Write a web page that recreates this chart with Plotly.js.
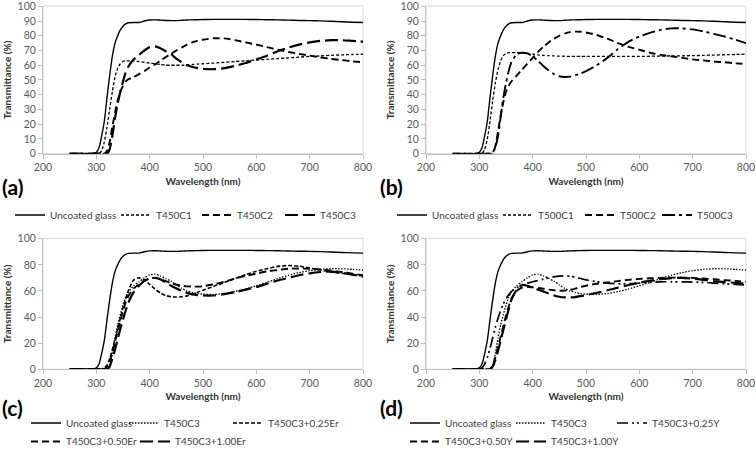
<!DOCTYPE html>
<html><head><meta charset="utf-8">
<script src="https://cdn.plot.ly/plotly-3.0.1.min.js"></script>
<style>html,body{margin:0;padding:0;background:#fff;overflow:hidden}#chart{width:756px;height:456px}</style>
</head><body><div id="chart"></div>
<script>
// wavelength grid (nm)
const wavelength = [250,290,300,305,310,315,320,325,330,335,340,345,350,355,360,370,380,390,400,410,420,430,440,450,460,470,480,490,500,520,540,560,580,600,620,640,660,680,700,720,740,760,780,800];

// Transmittance (%)
const uncoatedGlass = [0,0,1,4,12,22,38,53,66,75,80,84,86.5,88,88.8,89,89,90,90.7,90.8,90.6,90.4,90.3,90.3,90.5,90.7,90.8,90.9,91,91.1,91.1,91.1,91.1,91,90.9,90.8,90.6,90.4,90.3,90.1,89.8,89.5,89.2,89];
const T450C1 = [0,0,0,0,2,8,18,30,42,52,58,61,62.5,63,63,63,62.5,62,61.5,61,60.5,60,60,60,60,60.2,60.5,60.8,61,61.5,62,62.5,63,63.5,64,64.5,65,65.5,66,66.3,66.7,67,67.3,67.5];
const T450C2 = [0,0,0,0,0,0,2,8,18,28,36,42,46,49,50.5,52,54,56,58.5,60.5,63,65.5,67.5,70,72,74,75.5,76.5,77.3,78.3,78.2,77,75.5,74,72.3,70.5,69,67.7,66.5,65.3,64.3,63.5,62.7,62];
const T450C3 = [0,0,0,0,0,0,0,3,12,24,34,42,49,55,59,64,67,70,72.3,72.8,71.5,69.5,67.5,64.5,62,60,58.8,58,57.5,57.3,58,59.5,61.5,64,66.5,69.5,72,74,75.5,76.5,77,77,76.5,76];
const T500C1 = [0,0,0,0,3,10,22,36,48,57,63,66.5,68,68.5,68.5,68.5,68.5,68,67.5,67,66.7,66.5,66.3,66.2,66.1,66,66,66,66,66,66,66,66,66,66.1,66.2,66.3,66.4,66.5,66.7,66.9,67.1,67.3,67.5];
const T500C2 = [0,0,0,0,0,0,0,0,5,15,26,35,42,46,49,53,57,61,65,69,72.5,75.5,78,80,81.5,82.5,82.8,82.7,82.2,80.5,78,75,72.5,70.5,68.5,67,66,65,64,63.3,62.5,62,61.3,60.8];
const T500C3 = [0,0,0,0,0,0,0,1,4,12,25,38,48,56,62,67.5,68.5,68,66,63,59.5,56.5,54,52.5,52,52.3,53.2,54.5,56,60,65,71,76,79.5,82,84,85,85,84.3,83,81.3,79.5,77.3,75];
const T450C3_025Er = [0,0,0,0,0,1,3,8,15,23,31,39,47,54,60,68.5,70,68.5,65,61.5,58.5,56.5,55.5,55.3,55.5,56.2,57.5,59,60.5,63.5,66.5,69.5,72.5,75,77,78.8,79.5,79,77.5,76,74.5,73.5,72.5,71.5];
const T450C3_050Er = [0,0,0,0,0,0,2,6,13,21,29,37,45,51,56,62,65,68,69.5,70,69,67.5,66,64.8,64,63.5,63.3,63.3,63.6,65,67,69.5,71.5,73.3,75,76,77,77.2,77,76.5,75.5,74.5,73.3,72];
const T450C3_100Er = [0,0,0,0,0,0,0,2,8,15,23,31,38,45,51,59,64,67.5,69.5,70,69,66.5,64,62,60,58.5,57.3,56.8,56.5,56.5,57.5,59,61,63,65.5,68,70,72,73.5,74.5,74.8,74,72.5,71];
const T450C3_025Y = [0,0,0,1,4,9,16,24,32,39,45,50,54,57,59.5,62.5,64.5,66,67,68,69,70,70.8,71.3,71.5,71.3,70.5,69.5,68.5,67,66,65.5,65.5,66,66.5,67,67,67,66.8,66.5,66,65.5,65,64.5];
const T450C3_050Y = [0,0,0,0,0,0,0,3,9,17,25,33,41,48,54,60,62.5,63,62.8,62.3,61.7,61,60.5,60.2,60.2,60.8,61.8,63,64,65.5,66.5,67.5,68.5,69.2,69.7,70,70.2,70.2,70,69.5,69,68.3,67.7,67];
const T450C3_100Y = [0,0,0,0,0,0,0,2,7,14,22,30,38,46,53,61,64.5,64,62.5,61,59.5,58,56.5,55.5,55,55,55.3,56,56.8,58.5,60.5,62.5,64.5,66.3,67.8,69,69.8,70,69.5,68.5,67.5,66.8,66.2,65.5];

const xTicks = [200,300,400,500,600,700,800];
const yTicksTop = [0,10,20,30,40,50,60,70,80,90,100];
const yTicksBottom = [0,20,40,60,80,100];
const panelLabels = ['(a)','(b)','(c)','(d)'];

const W = 756, H = 456;
const FONT = 'Lato, "Open Sans", sans-serif';
const STY = {
  solid:  {dash:'solid', width:1.4},
  short:  {dash:'3px,2px', width:1.3},
  medium: {dash:'7px,4px', width:1.9},
  long:   {dash:'13px,5px', width:2.2},
  dashdot:{dash:'13px,4px,3px,4px', width:1.9},
  dot:    {dash:'1.5px,1.5px', width:1.3},
  fine:   {dash:'4px,2px', width:1.6},
  dd:     {dash:'11px,4px,2px,3px,2px,4px', width:1.7}
};
function tr(name, y, ax, sty, legend, lw){
  return {type:'scatter', mode:'lines', name:name, x:wavelength, y:y,
    xaxis:'x'+(ax===1?'':ax), yaxis:'y'+(ax===1?'':ax),
    line:{color:'#000', dash:sty.dash, width:sty.width, shape:'spline', smoothing:0.5},
    legend:legend, legendwidth:lw, showlegend:true, hoverinfo:'skip'};
}
const data = [
  tr('Uncoated glass', uncoatedGlass, 1, STY.solid, 'legend', 61),
  tr('T450C1', T450C1, 1, STY.short, 'legend', 36),
  tr('T450C2', T450C2, 1, STY.medium, 'legend', 38),
  tr('T450C3', T450C3, 1, STY.long, 'legend', 40),

  tr('Uncoated glass', uncoatedGlass, 2, STY.solid, 'legend2', 61),
  tr('T500C1', T500C1, 2, STY.short, 'legend2', 37),
  tr('T500C2', T500C2, 2, STY.medium, 'legend2', 32),
  tr('T500C3', T500C3, 2, STY.dashdot, 'legend2', 40),

  tr('Uncoated glass', uncoatedGlass, 3, STY.solid, 'legend3', 53),
  tr('T450C3', T450C3, 3, STY.dot, 'legend3', 59),
  tr('T450C3+0.25Er', T450C3_025Er, 3, STY.fine, 'legend3', 75),
  tr('T450C3+0.50Er', T450C3_050Er, 3, STY.medium, 'legend4', 64),
  tr('T450C3+1.00Er', T450C3_100Er, 3, STY.long, 'legend4', 75),

  tr('Uncoated glass', uncoatedGlass, 4, STY.solid, 'legend5', 61),
  tr('T450C3', T450C3, 4, STY.dot, 'legend5', 56),
  tr('T450C3+0.25Y', T450C3_025Y, 4, STY.dd, 'legend5', 72),
  tr('T450C3+0.50Y', T450C3_050Y, 4, STY.medium, 'legend6', 61),
  tr('T450C3+1.00Y', T450C3_100Y, 4, STY.long, 'legend6', 72)
];

function xd(a,b){return [a/W, b/W];}
function yd(top,bottom){return [1-bottom/H, 1-top/H];}
const tickFont = {family:FONT, size:10.5, color:'#595959'};
const titleFont = {family:FONT, size:10, color:'#333333'};
function xaxis(dom, anchor){
  return {domain:dom, anchor:anchor, range:[200,800], tickmode:'array', tickvals:xTicks, ticks:'outside', ticklen:4,
    tickcolor:'#bfbfbf', showline:true, linecolor:'#bfbfbf', linewidth:1, showgrid:false, zeroline:false,
    tickfont:tickFont, automargin:false, ticklabeloverflow:'allow',
    title:{text:'<b>Wavelength (nm)</b>', font:titleFont, standoff:5}};
}
function yaxis(dom, anchor, tv){
  return {domain:dom, anchor:anchor, range:[0,100.2], tickmode:'array', tickvals:tv, ticks:'outside', ticklen:4,
    tickcolor:'#bfbfbf', showline:true, linecolor:'#bfbfbf', linewidth:1, showgrid:false, zeroline:false,
    tickfont:tickFont, automargin:false, ticklabeloverflow:'allow',
    title:{text:'<b>Transmittance (%)</b>', font:titleFont, standoff:4}};
}
function leg(xpx, ypx){
  return {orientation:'h', x:xpx/W, y:1-ypx/H, xanchor:'left', yanchor:'middle',
    bgcolor:'rgba(0,0,0,0)', borderwidth:0, itemwidth:30, traceorder:'normal',
    font:{family:FONT, size:10, color:'#404040'}, itemclick:false, itemdoubleclick:false};
}
const frame = [1,2,3,4].map(i => ({type:'rect', xref:'x'+(i===1?'':i)+' domain', yref:'y'+(i===1?'':i)+' domain',
  x0:0, x1:1, y0:0, y1:1, line:{color:'#d9d9d9', width:1}, layer:'below'}));
const labelPos = [[0,187],[378,187],[0,408],[378,408]];
const annotations = panelLabels.map((t,i)=>({text:'<b>'+t+'</b>', xref:'paper', yref:'paper',
  x:labelPos[i][0]/W, y:1-labelPos[i][1]/H, xanchor:'left', yanchor:'middle', showarrow:false,
  font:{family:FONT, size:21, color:'#000'}}));

const layout = {
  width:W, height:H, margin:{l:0,r:0,t:0,b:0}, paper_bgcolor:'#fff', plot_bgcolor:'#fff',
  showlegend:true, font:{family:FONT},
  xaxis: xaxis(xd(43,363),'y'),  yaxis: yaxis(yd(6,154),'x',yTicksTop),
  xaxis2: xaxis(xd(426,746),'y2'), yaxis2: yaxis(yd(6,154),'x2',yTicksTop),
  xaxis3: xaxis(xd(43,363),'y3'), yaxis3: yaxis(yd(239,370),'x3',yTicksBottom),
  xaxis4: xaxis(xd(426,746),'y4'), yaxis4: yaxis(yd(239,370),'x4',yTicksBottom),
  legend: leg(10,215), legend2: leg(392,215),
  legend3: leg(26,423), legend4: leg(26,442),
  legend5: leg(405,423), legend6: leg(405,442),
  shapes: frame, annotations: annotations
};
Plotly.newPlot('chart', data, layout, {staticPlot:true, displayModeBar:false});
</script></body></html>
